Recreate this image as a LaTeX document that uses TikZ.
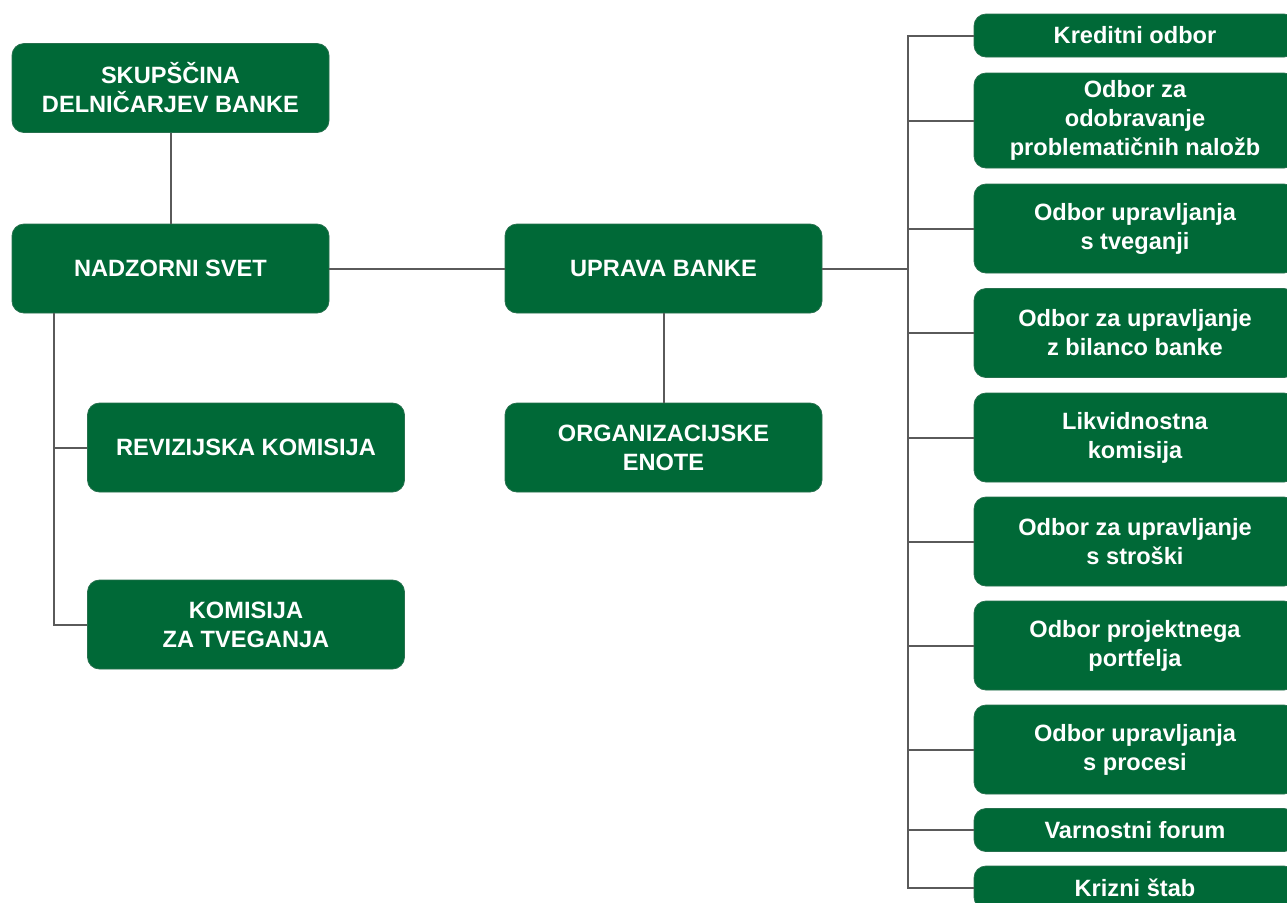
\documentclass[tikz,border=0pt]{standalone}
\usepackage{fontspec}
\setmainfont{Liberation Sans}
\definecolor{bgreen}{RGB}{0,105,55}
\definecolor{lgray}{RGB}{90,90,90}
\begin{document}
\begin{tikzpicture}[x=0.5pt,y=-0.5pt,
  box/.style={rectangle, rounded corners=6pt, fill=bgreen, draw=bgreen!70!gray, line width=0.4pt,
    text=white, font=\bfseries\fontsize{11.8}{14.5}\selectfont, align=center, inner sep=0pt,
    minimum width=158.5pt, minimum height=44.5pt},
  rbox/.style={box, minimum width=161pt},
  conn/.style={draw=lgray, line width=1pt}]
\useasboundingbox (0,0) rectangle (1287,902);
% left and middle
\node[box] (skup) at (170.5,88) {SKUPŠČINA\\DELNIČARJEV BANKE};
\node[box] (nadz) at (170.5,268.5) {NADZORNI SVET};
\node[box] (rev) at (246,447.5) {REVIZIJSKA KOMISIJA};
\node[box] (kom) at (246,624.5) {KOMISIJA\\ZA TVEGANJA};
\node[box] (upr) at (663.5,268.5) {UPRAVA BANKE};
\node[box] (org) at (663.5,447.5) {ORGANIZACIJSKE\\ENOTE};
% right column
\node[rbox, minimum height=21.5pt] (r1) at (1135,35.5) {Kreditni odbor};
\node[rbox, minimum height=47.5pt] (r2) at (1135,120.5) {Odbor za\\odobravanje\\problematičnih naložb};
\node[rbox] (r3) at (1135,228.5) {Odbor upravljanja\\s tveganji};
\node[rbox] (r4) at (1135,333) {Odbor za upravljanje\\z bilanco banke};
\node[rbox] (r5) at (1135,437.5) {Likvidnostna\\komisija};
\node[rbox] (r6) at (1135,541.5) {Odbor za upravljanje\\s stroški};
\node[rbox] (r7) at (1135,645.5) {Odbor projektnega\\portfelja};
\node[rbox] (r8) at (1135,749.5) {Odbor upravljanja\\s procesi};
\node[rbox, minimum height=21.5pt] (r9) at (1135,830) {Varnostni forum};
\node[rbox, minimum height=21.5pt] (r10) at (1135,887.5) {Krizni štab};
% connectors
\coordinate (lt) at (54,313);
\coordinate (rt) at (908,268.5);
\draw[conn] (skup.south) -- (nadz.north);
\draw[conn] (nadz.east) -- (upr.west);
\draw[conn] (upr.south) -- (org.north);
\draw[conn] (lt) |- (rev.west);
\draw[conn] (lt) |- (kom.west);
\draw[conn] (upr.east) -- (rt);
\foreach \r in {r1,r2,r3,r4,r5,r6,r7,r8,r9,r10}{\draw[conn] (rt) |- (\r.west);}
\end{tikzpicture}
\end{document}
